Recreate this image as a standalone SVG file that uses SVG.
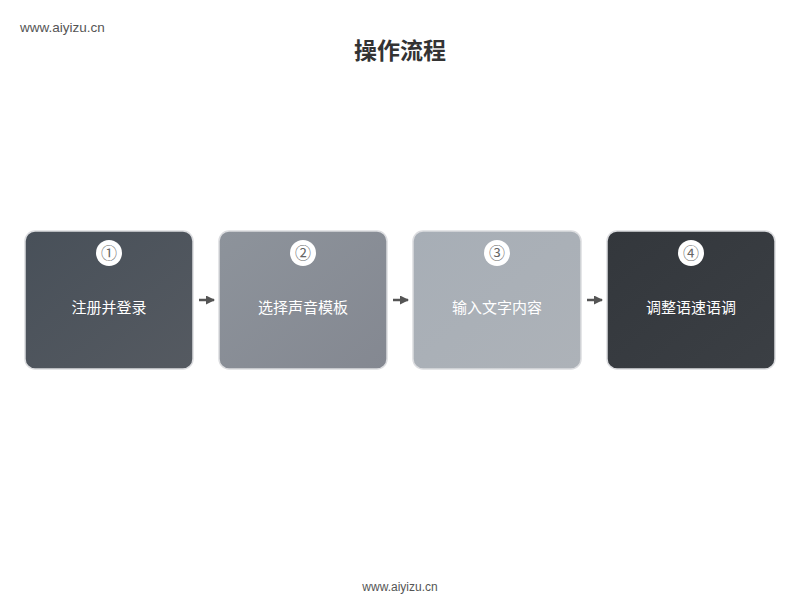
<svg xmlns="http://www.w3.org/2000/svg" width="800" height="600" viewBox="0 0 800 600">
<defs>
<linearGradient id="g1" x1="0" y1="0" x2="1" y2="1"><stop offset="0" stop-color="#485059"/><stop offset="1" stop-color="#555a61"/></linearGradient>
<linearGradient id="g2" x1="0" y1="0" x2="1" y2="1"><stop offset="0" stop-color="#8d939b"/><stop offset="1" stop-color="#848891"/></linearGradient>
<linearGradient id="g3" x1="0" y1="0" x2="1" y2="1"><stop offset="0" stop-color="#a7aeb6"/><stop offset="1" stop-color="#adb2b8"/></linearGradient>
<linearGradient id="g4" x1="0" y1="0" x2="1" y2="1"><stop offset="0" stop-color="#33373c"/><stop offset="1" stop-color="#3b3f44"/></linearGradient>
<marker id="ah" markerWidth="9" markerHeight="9" refX="8" refY="4.5" orient="auto" markerUnits="userSpaceOnUse"><path d="M0,0 L9,4.5 L0,9 Z" fill="#555"/></marker>
</defs>
<style>
.box{stroke:#dcdde0;stroke-width:1.5}
.circ{fill:#fff}
.num{font-family:"Liberation Sans","Noto Sans CJK SC",sans-serif;font-size:16px;fill:#666;text-anchor:middle}
.lbl{font-family:"Noto Sans CJK SC",sans-serif;font-size:15px;fill:#fff;text-anchor:middle}
.wm{font-family:"Liberation Sans",sans-serif;font-size:12px;fill:#555}
.wm2{font-family:"Liberation Sans",sans-serif;font-size:13.5px;fill:#555}
.conn{stroke:#555;stroke-width:2.5;fill:none}
</style>
<rect width="800" height="600" fill="#fff"/>
<text class="wm2" x="20" y="32">www.aiyizu.cn</text>
<text x="400" y="59" font-family="Noto Sans CJK SC,sans-serif" font-size="23" font-weight="bold" fill="#333" text-anchor="middle">操作流程</text>
<g id="node1">
<rect class="box" x="25" y="231" width="168" height="138" rx="10" fill="url(#g1)"/>
<circle class="circ" cx="109" cy="253" r="13"/>
<text class="num" x="109" y="259">①</text>
<text class="lbl" x="109" y="313">注册并登录</text>
</g>
<g id="node2">
<rect class="box" x="219" y="231" width="168" height="138" rx="10" fill="url(#g2)"/>
<circle class="circ" cx="303" cy="253" r="13"/>
<text class="num" x="303" y="259">②</text>
<text class="lbl" x="303" y="313">选择声音模板</text>
</g>
<g id="node3">
<rect class="box" x="413" y="231" width="168" height="138" rx="10" fill="url(#g3)"/>
<circle class="circ" cx="497" cy="253" r="13"/>
<text class="num" x="497" y="259">③</text>
<text class="lbl" x="497" y="313">输入文字内容</text>
</g>
<g id="node4">
<rect class="box" x="607" y="231" width="168" height="138" rx="10" fill="url(#g4)"/>
<circle class="circ" cx="691" cy="253" r="13"/>
<text class="num" x="691" y="259">④</text>
<text class="lbl" x="691" y="313">调整语速语调</text>
</g>
<g id="connectors">
<line class="conn" x1="199" y1="300" x2="214" y2="300" marker-end="url(#ah)"/>
<line class="conn" x1="393" y1="300" x2="408" y2="300" marker-end="url(#ah)"/>
<line class="conn" x1="587" y1="300" x2="602" y2="300" marker-end="url(#ah)"/>
</g>
<text class="wm" x="400" y="591" text-anchor="middle">www.aiyizu.cn</text>
</svg>
